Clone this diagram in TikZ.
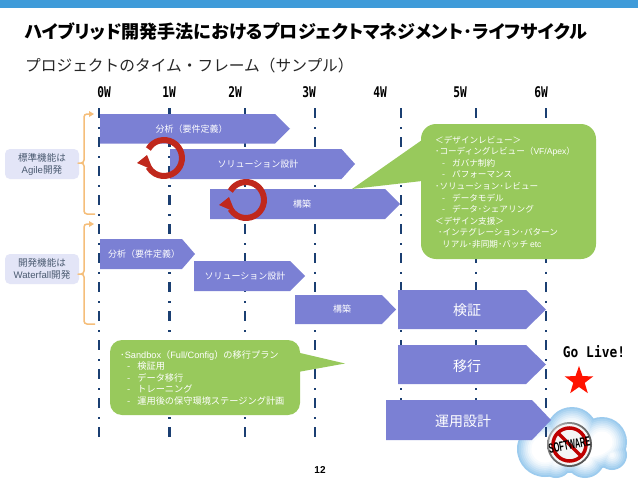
\documentclass[tikz,border=0pt]{standalone}
\usepackage{fontspec}
\usepackage{graphicx}
\setmainfont{Noto Sans CJK JP}
\newfontfamily\titlefont[RawFeature=+palt]{Noto Sans CJK JP}
\newfontfamily\weekfont{DejaVu Sans Mono}
\newfontfamily\latinfont{Liberation Sans}
\usetikzlibrary{shapes.geometric,calc}
\definecolor{bandblue}{HTML}{3F9BD9}
\definecolor{barfill}{HTML}{7B80D4}
\definecolor{calloutgreen}{HTML}{98C95C}
\definecolor{navy}{HTML}{1B3F72}
\definecolor{bracecol}{HTML}{F5BE7A}
\definecolor{labelfill}{HTML}{E3E5F7}
\definecolor{labeltext}{HTML}{4A5A70}
\definecolor{cyclered}{HTML}{C0281C}
\definecolor{cloudblue}{HTML}{9CCBEE}
\newcommand{\wk}[1]{\scalebox{0.8}[1.05]{\weekfont\bfseries #1}}
\newcommand{\dashitem}[1]{\hspace*{7pt}-\hspace*{7pt}#1}
\tikzset{
  x=1pt,y=-1pt,
  bartext/.style={text=white,font=\fontsize{9}{11}\selectfont,inner sep=0pt},
  bigtext/.style={text=white,font=\fontsize{14}{16}\selectfont,inner sep=0pt},
  weeklab/.style={font=\fontsize{14}{16}\selectfont,inner sep=0pt},
  timeline/.style={navy,line width=2.3pt,dash pattern=on 10pt off 9pt on 2pt off 8pt},
  barshape/.style={fill=barfill,draw=none},
  sidebox/.style={fill=labelfill,rounded corners=5pt,minimum width=74pt,minimum height=30pt,inner sep=0pt,align=center,text=labeltext,font=\fontsize{9.6}{12}\selectfont},
  bracket/.style={draw=bracecol,line width=1.5pt,rounded corners=3pt},
  bracketarrow/.style={fill=bracecol,draw=none},
  callout/.style={fill=calloutgreen,draw=none},
  callouttext/.style={text=white,font=\fontsize{8.6}{11.6}\selectfont,inner sep=0pt,anchor=north west,align=left},
  callouttextb/.style={callouttext,font=\fontsize{9.2}{11.6}\selectfont},
  cyclearc/.style={cyclered,line width=6pt},
  cyclehead/.style={fill=cyclered,draw=none},
}
\newcommand{\pbar}[6]{% left, top, right shoulder, tip, bottom, name
  \fill[barshape] (#1,#2) -- (#3,#2) -- (#4,{(#2+#5)/2}) -- (#3,#5) -- (#1,#5) -- cycle;
  \coordinate (#6) at ({(#1+#3)/2},{(#2+#5)/2});
}
\begin{document}
\begin{tikzpicture}
\useasboundingbox (0,0) rectangle (638,479);
\fill[white] (0,0) rectangle (638,479);
\fill[bandblue] (0,0) rectangle (638,8);
\node[anchor=west,inner sep=0pt] (title) at (25,32) {\resizebox{562pt}{!}{\titlefont\bfseries ハイブリッド開発手法におけるプロジェクトマネジメント･ライフサイクル}};
\node[anchor=west,inner sep=0pt,text=black!85,font=\fontsize{15.7}{18}\selectfont] (subtitle) at (25,66) {プロジェクトのタイム・フレーム（サンプル）};
\node[weeklab] (w0) at (104,92) {\wk{0W}};
\node[weeklab] (w1) at (169,92) {\wk{1W}};
\node[weeklab] (w2) at (235,92) {\wk{2W}};
\node[weeklab] (w3) at (309,92) {\wk{3W}};
\node[weeklab] (w4) at (380,92) {\wk{4W}};
\node[weeklab] (w5) at (460,92) {\wk{5W}};
\node[weeklab] (w6) at (541,92) {\wk{6W}};
% cloud
\begin{scope}
\clip (500,400) rectangle (638,479);
\foreach \k/\mixv in {0/100,1/85,2/70,3/55,4/40,5/28,6/16,7/8,8/0}{
  \colorlet{cloudnow}{cloudblue!\mixv!white}
  \foreach \cx/\cy/\r in {545/449/28, 572/433/26, 602/442/25, 585/458/20, 556/462/16, 612/455/15}{
    \fill[cloudnow] (\cx,\cy) circle[radius={(\r-1.8*\k)*1pt}];
  }
  \fill[cloudnow] (572,449) ellipse[x radius={(50-1.8*\k)*1pt},y radius={(24-1.8*\k)*1pt}];
}
\end{scope}
% time lines
\foreach \xx in {99,169.5,245,315,401,476,546}{
  \draw[timeline] (\xx,108) -- (\xx,440);
}
% bars
\pbar{100}{114}{275}{290}{143.5}{b1}
\pbar{170}{149}{341.5}{355}{179}{b2}
\pbar{210}{189}{385}{400}{219}{b3}
\pbar{100}{239}{182}{195}{269}{b4}
\pbar{194}{261}{290}{305}{291}{b5}
\pbar{295}{295}{382}{396}{324}{b6}
\pbar{398}{290}{526}{546}{329}{b7}
\pbar{398}{345}{526}{546}{384}{b8}
\pbar{386}{400}{532}{551}{440}{b9}
\node[bartext] (t1) at (191.5,129) {分析（要件定義）};
\node[bartext] (t2) at (258,164) {ソリューション設計};
\node[bartext] (t3) at (302,204) {構築};
\node[bartext] (t4) at (144,254) {分析（要件定義）};
\node[bartext] (t5) at (245,276) {ソリューション設計};
\node[bartext] (t6) at (342,309) {構築};
\node[bigtext] (t7) at (467,310) {検証};
\node[bigtext] (t8) at (467,366) {移行};
\node[bigtext] (t9) at (463,421) {運用設計};
% cycles
\draw[cyclearc] (148.4,149) arc[start angle=150,end angle=-150,radius=18pt];
\draw[cyclearc] (230.4,191) arc[start angle=150,end angle=-150,radius=18pt];
\fill[cyclehead] (137,163) -- (147,155) -- (153,170) -- cycle;
\fill[cyclehead] (219,205) -- (229,197) -- (235,212) -- cycle;
% side labels
\node[sidebox] (agile) at (42,164) {標準機能は\\{\latinfont Agile}開発};
\node[sidebox] (wf) at (42,269) {開発機能は\\{\latinfont Waterfall}開発};
% brackets
\draw[bracket] (91,114) -- (84,114) -- (84,163) -- (80,163) -- (84,163) -- (84,214) -- (95,214);
\fill[bracketarrow] (94,114) -- (89,111) -- (89,117) -- cycle;
\draw[bracket] (91,224) -- (84,224) -- (84,274) -- (80,274) -- (84,274) -- (84,324) -- (95,324);
\fill[bracketarrow] (94,224) -- (89,221) -- (89,227) -- cycle;
% callouts
\fill[callout,rounded corners=15pt] (421,124) rectangle (596,259);
\fill[callout] (422,140) -- (352,189) -- (422,181) -- cycle;
\node[callouttext] (c1) at (435,135.5) {＜デザインレビュー＞\\･コーディングレビュー（{\latinfont VF/Apex}）\\\dashitem{ガバナ制約}\\\dashitem{パフォーマンス}\\･ソリューション･レビュー\\\dashitem{データモデル}\\\dashitem{データ･シェアリング}\\＜デザイン支援＞\\\hspace*{3pt}･インテグレーション･パターン\\\hspace*{7pt}リアル･非同期･バッチ {\latinfont etc}};
\fill[callout,rounded corners=12pt] (110,340) rectangle (300,415);
\fill[callout] (298,352.5) -- (345,363.5) -- (298,372) -- cycle;
\node[callouttextb] (c2) at (120,350) {･{\latinfont Sandbox}（{\latinfont Full/Config}）の移行プラン\\\dashitem{検証用}\\\dashitem{データ移行}\\\dashitem{トレーニング}\\\dashitem{運用後の保守環境ステージング計画}};
% go live
\node[weeklab] (golive) at (594,352) {\scalebox{0.92}[1.05]{\weekfont\bfseries Go Live!}};
\node[star,star points=5,star point ratio=2.5,fill=red!85!orange,draw=none,inner sep=0pt,minimum size=30pt] (starmark) at (579,381) {};
% badge
\shade[ball color=white!82!black] (569.5,444.5) circle[radius=22.5pt];
\fill[white!96!black] (569.5,444.5) circle[radius=20.5pt];
\draw[red!75!black,line width=3.5pt] (569.5,444.5) circle[radius=16.5pt];
\draw[red!75!black,line width=3.2pt] (558,433) -- (581,456);
\node[rotate=10,inner sep=0pt,font=\fontsize{9}{10}\selectfont] (badge) at (569.5,445) {\scalebox{0.82}[1.5]{\latinfont\bfseries SOFTWARE}};
\node[inner sep=0pt,font=\fontsize{10}{12}\selectfont] (page) at (320,470) {\latinfont\bfseries 12};
\end{tikzpicture}
\end{document}
